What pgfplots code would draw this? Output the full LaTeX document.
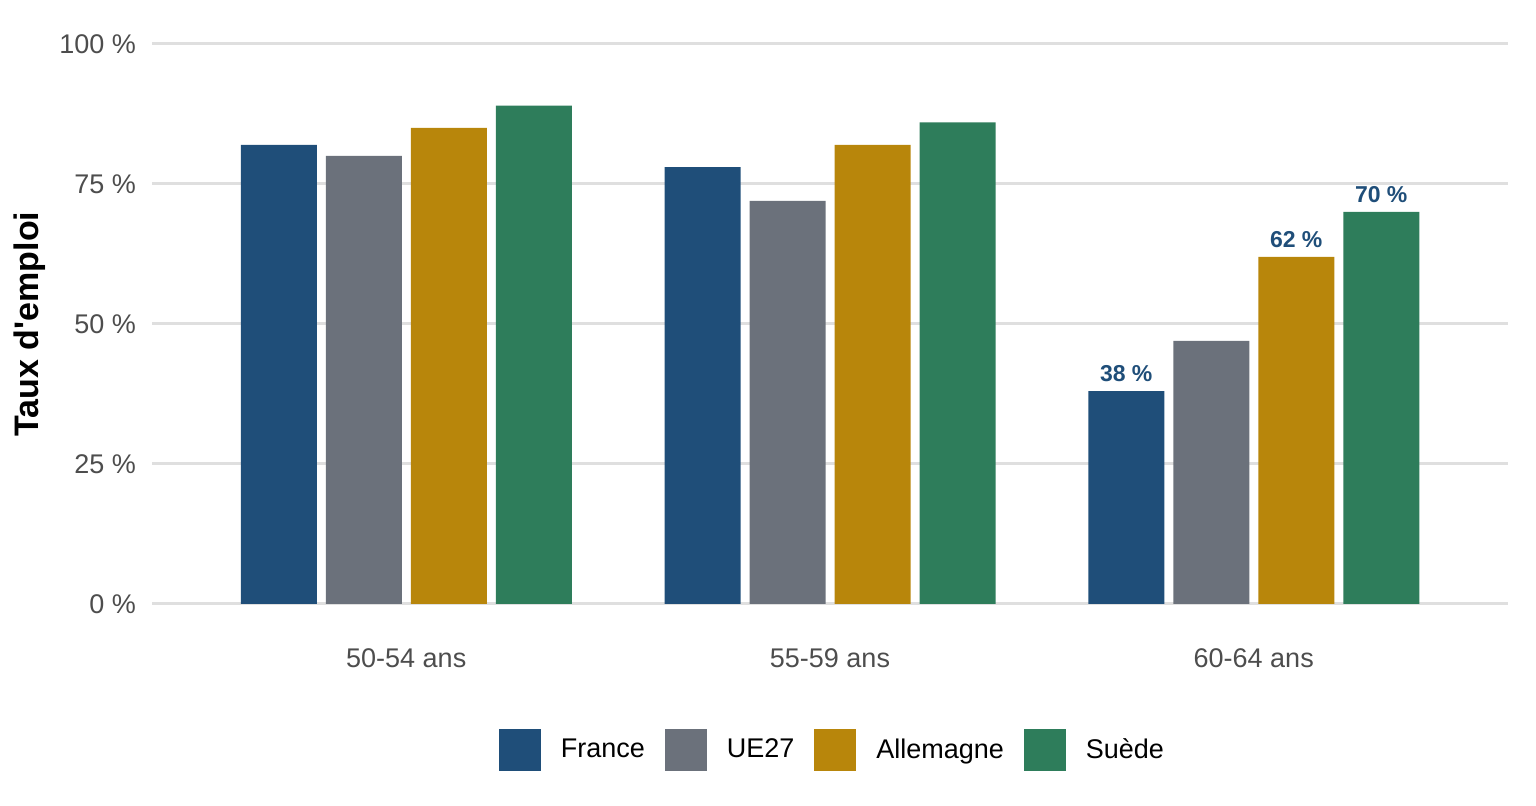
\documentclass[border=0pt]{standalone}
\usepackage{fontspec}
\setmainfont{Liberation Sans}[Ligatures=TeXOff]
\usepackage{pgfplots}
\pgfplotsset{compat=1.18}
\definecolor{cFR}{HTML}{1F4E79}
\definecolor{cUE}{HTML}{6B717B}
\definecolor{cDE}{HTML}{B8860B}
\definecolor{cSE}{HTML}{2E7D5B}
\definecolor{gridc}{HTML}{DFDFDF}
\definecolor{txt}{HTML}{4D4D4D}
\begin{document}
\begin{tikzpicture}
\path[use as bounding box] (0,0) rectangle (768pt,403pt);
\begin{axis}[
  at={(76pt,101pt)}, anchor=south west,
  scale only axis, width=678pt, height=280pt,
  xmin=0.4, xmax=3.6, ymin=0, ymax=100,
  clip=false,
  axis line style={draw=none},
  tick style={draw=none},
  major tick length=0pt,
  ymajorgrids, grid style={gridc, line width=1.5pt},
  ytick={0,25,50,75,100},
  yticklabels={0 \%,25 \%,50 \%,75 \%,100 \%},
  xtick={1,2,3},
  xticklabels={50-54 ans,55-59 ans,60-64 ans},
  /pgf/number format/assume math mode=true,
  yticklabel style={font=\fontsize{13.5}{16}\selectfont, text=txt, anchor=east, xshift=-4.5pt},
  xticklabel style={font=\fontsize{13.5}{16}\selectfont, text=txt, anchor=north, yshift=-19pt},
  ylabel={Taux d'emploi},
  every axis y label/.style={at={(axis description cs:0,0.5)}, xshift=-61pt, rotate=90, anchor=center, font=\bfseries\fontsize{17}{20}\selectfont},
  ybar=4.5pt, bar width=38pt,
  point meta=explicit symbolic,
  nodes near coords={\pgfplotspointmeta},
  every node near coord/.append style={font=\bfseries\fontsize{11.5}{14}\selectfont, text=cFR, anchor=south, yshift=1pt},
  legend columns=4,
  legend style={at={(0.5025,-0.2607)}, anchor=center, draw=none, fill=none,
    font=\fontsize{13.5}{16}\selectfont,
    /tikz/every even column/.append style={column sep=8pt}},
  legend image code/.code={\fill[#1] (0pt,-10.5pt) rectangle (21pt,10.5pt); \path[draw=none,fill=none] (0pt,0pt) -- (29pt,0pt);},
]
\addplot[fill=cFR, draw=none] table[x=x, y=y, meta=lab] {
x y lab
1 82 {}
2 78 {}
3 38 {38~\%}
};
\addlegendentry{France}
\addplot[fill=cUE, draw=none] table[x=x, y=y, meta=lab] {
x y lab
1 80 {}
2 72 {}
3 47 {}
};
\addlegendentry{UE27}
\addplot[fill=cDE, draw=none] table[x=x, y=y, meta=lab] {
x y lab
1 85 {}
2 82 {}
3 62 {62~\%}
};
\addlegendentry{Allemagne}
\addplot[fill=cSE, draw=none] table[x=x, y=y, meta=lab] {
x y lab
1 89 {}
2 86 {}
3 70 {70~\%}
};
\addlegendentry{Suède}
\end{axis}
\end{tikzpicture}
\end{document}
